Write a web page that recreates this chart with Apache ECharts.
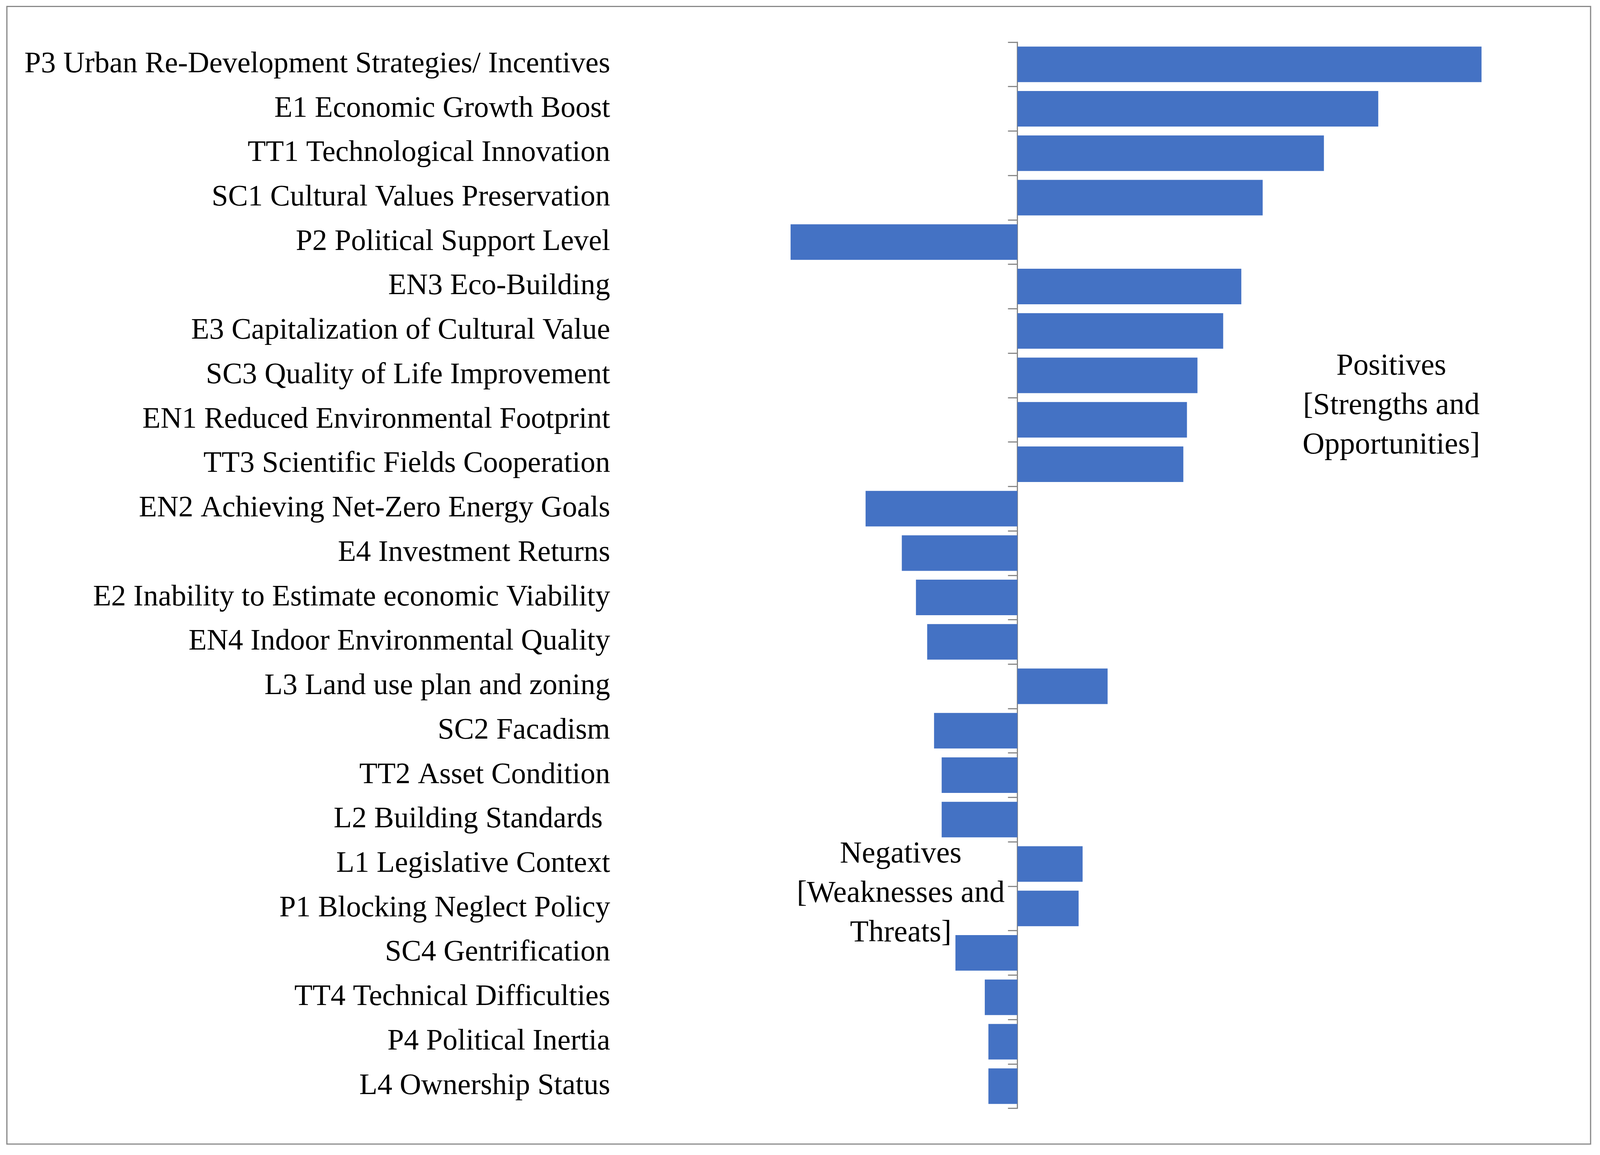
<!DOCTYPE html>
<html lang="en">
<head>
    <meta charset="UTF-8">
    <title>Positives and Negatives</title>
    <script src="https://cdn.jsdelivr.net/npm/echarts@6/dist/echarts.min.js"></script>
    <style>
        html, body {
            margin: 0;
            padding: 0;
            overflow: hidden;
            background-color: #FFFFFF;
        }
        #chart {
            width: 100vw;
            height: 100vh;
        }
    </style>
</head>
<body>
    <div id="chart"></div>

    <script>
        // Categories, top to bottom
        const factors = [
            'P3 Urban Re-Development Strategies/ Incentives',
            'E1 Economic Growth Boost',
            'TT1 Technological Innovation',
            'SC1 Cultural Values Preservation',
            'P2 Political Support Level',
            'EN3 Eco-Building',
            'E3 Capitalization of Cultural Value',
            'SC3 Quality of Life Improvement',
            'EN1 Reduced Environmental Footprint',
            'TT3 Scientific Fields Cooperation',
            'EN2 Achieving Net-Zero Energy Goals',
            'E4 Investment Returns',
            'E2 Inability to Estimate economic Viability',
            'EN4 Indoor Environmental Quality',
            'L3 Land use plan and zoning',
            'SC2 Facadism',
            'TT2 Asset Condition',
            'L2 Building Standards ',
            'L1 Legislative Context',
            'P1 Blocking Neglect Policy',
            'SC4 Gentrification',
            'TT4 Technical Difficulties',
            'P4 Political Inertia',
            'L4 Ownership Status'
        ];

        // Values (positive = strengths/opportunities)
        const scores = [
            12.81, 9.96, 8.46, 6.77, -6.26, 6.18, 5.68, 4.97, 4.68, 4.58,
            -4.19, -3.19, -2.80, -2.49, 2.49, -2.30, -2.09, -2.09, 1.80, 1.69,
            -1.71, -0.90, -0.80, -0.80
        ];

        const positiveNote = 'Positives\n[Strengths and\nOpportunities]';
        const negativeNote = 'Negatives\n[Weaknesses and\nThreats]';

        const serif = '"Palatino Linotype", "Book Antiqua", Palatino, "Liberation Serif", serif';

        const chart = echarts.init(document.getElementById('chart'));
        // layout was measured on a 4416 x 2957 picture; scale to whatever we got
        const s = chart.getWidth() / 4416;
        const sy = chart.getHeight() / 2957;

        chart.setOption({
            animation: false,
            backgroundColor: '#FFFFFF',
            grid: {
                left: 2108 * s,
                right: 208 * s,
                top: 108 * sy,
                bottom: 119.5 * sy
            },
            xAxis: {
                type: 'value',
                min: -7,
                max: 14,
                show: false,
                splitLine: { show: false }
            },
            yAxis: [
                {
                    // the centre line with tick marks
                    type: 'category',
                    data: factors,
                    inverse: true,
                    axisLine: {
                        onZero: true,
                        lineStyle: { color: '#898989', width: 3.3 * s }
                    },
                    axisTick: {
                        show: true,
                        length: 26 * s,
                        lineStyle: { color: '#898989', width: 3.3 * s }
                    },
                    axisLabel: { show: false }
                },
                {
                    // the labels on the far left
                    type: 'category',
                    data: factors,
                    inverse: true,
                    position: 'left',
                    axisLine: { show: false, onZero: false },
                    axisTick: { show: false },
                    axisLabel: {
                        margin: 424 * s,
                        fontFamily: serif,
                        fontSize: 82 * s,
                        color: '#000000'
                    }
                }
            ],
            series: [{
                type: 'bar',
                yAxisIndex: 0,
                data: scores,
                barCategoryGap: '20%',
                itemStyle: { color: '#4472C4' }
            }],
            graphic: [
                {
                    type: 'rect',
                    shape: { x: 19 * s, y: 16.5 * sy, width: 4371 * s, height: 2912.5 * sy },
                    style: { fill: 'none', stroke: '#898989', lineWidth: 3.3 * s },
                    silent: true
                },
                {
                    type: 'text',
                    x: 3840 * s,
                    y: 1040 * sy,
                    style: {
                        text: positiveNote,
                        fontFamily: serif,
                        fontSize: 84 * s,
                        lineHeight: 101 * sy,
                        align: 'center',
                        verticalAlign: 'middle',
                        fill: '#000000'
                    }
                },
                {
                    type: 'text',
                    x: 2486 * s,
                    y: 2289 * sy,
                    style: {
                        text: negativeNote,
                        fontFamily: serif,
                        fontSize: 84 * s,
                        lineHeight: 101 * sy,
                        align: 'center',
                        verticalAlign: 'middle',
                        fill: '#000000'
                    }
                }
            ]
        });
    </script>
</body>
</html>
